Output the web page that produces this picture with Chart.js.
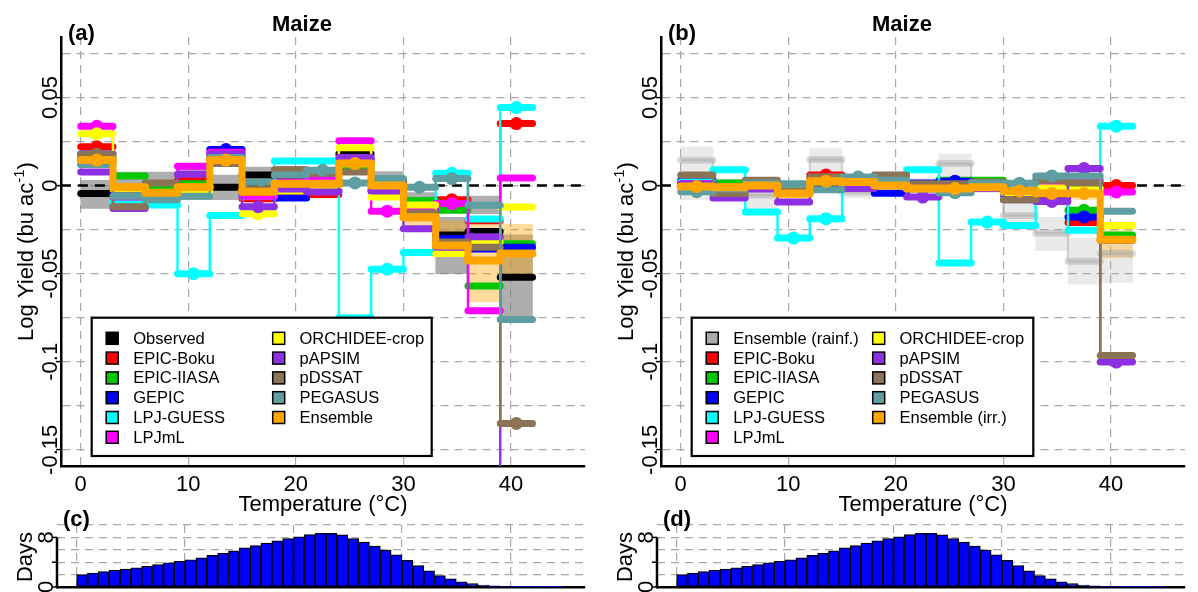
<!DOCTYPE html>
<html>
<head>
<meta charset="utf-8">
<script src="https://cdn.jsdelivr.net/npm/chart.js@4/dist/chart.umd.min.js"></script>
<style>
  html, body { margin: 0; padding: 0; background: #fff; }
  #wrap { position: relative; width: 1198px; height: 592px; overflow: hidden; background: #fff; }
  canvas { position: absolute; }
</style>
</head>
<body>
<div id="wrap">
  <canvas id="panelA" width="600" height="525" style="left:0;top:0"></canvas>
  <canvas id="panelB" width="598" height="525" style="left:600px;top:0"></canvas>
  <canvas id="panelC" width="600" height="92" style="left:0;top:500px"></canvas>
  <canvas id="panelD" width="598" height="92" style="left:600px;top:500px"></canvas>
</div>
<script>
const FONT = '"Liberation Sans", Arial, Helvetica, sans-serif';

// ---- temperature bins (lower edge, °C) ----
const binLow = [0, 3, 6, 9, 12, 15, 18, 21, 24, 27, 30, 33, 36, 39];
const binWidth = 3;

// ---- axis ticks ----
const xTickValues = [0, 10, 20, 30, 40];
const yGridValues = [-0.15, -0.125, -0.1, -0.075, -0.05, -0.025, 0, 0.025, 0.05, 0.075];
const yTickValues = [-0.15, -0.1, -0.05, 0, 0.05];
const yTickLabels = ['-0.15', '-0.1', '-0.05', '0', '0.05'];
const dayGridValues = [0, 2, 4, 6, 8, 10];
const dayTickValues = [0, 8];
const dayTickLabels = ['0', '8'];

// ---- panel (a): rainfed, per-bin log-yield response ----
const observedA   = [-0.0045, -0.002, -0.001, -0.002, -0.001, 0.006, 0.004, 0.003, 0.018, 0.002, -0.012, -0.028, -0.026, -0.052];
const observedLoA = [-0.013, -0.008, -0.008, -0.008, -0.008, -0.001, 0.000, -0.004, 0.014, -0.004, -0.020, -0.050, -0.016, -0.076];
const observedHiA = [0.003, 0.0077, 0.0077, 0.0106, 0.006, 0.0105, 0.011, 0.010, 0.022, 0.008, -0.004, -0.018, -0.006, -0.028];
const epicBokuA   = [0.022, -0.004, -0.006, 0.003, 0.017, -0.0075, -0.004, -0.005, 0.012, -0.003, -0.011, -0.008, -0.020, 0.0352];
const epicIiasaA  = [0.016, 0.0055, -0.002, 0.001, 0.016, -0.004, 0.000, 0.001, 0.009, -0.002, -0.0085, -0.014, -0.057, -0.033];
const gepicA      = [0.018, -0.003, -0.005, -0.002, 0.0205, -0.005, -0.007, -0.003, 0.015, -0.003, -0.015, -0.030, -0.036, -0.035];
const lpjGuessA   = [0.012, -0.009, -0.011, -0.050, -0.017, -0.006, 0.014, 0.014, -0.075, -0.0475, -0.038, 0.007, -0.019, 0.0443];
const lpjmlA      = [0.0337, -0.0065, -0.006, 0.011, 0.019, -0.006, 0.002, 0.003, 0.0255, -0.0145, -0.013, -0.0102, -0.071, 0.0043];
const orchideeA   = [0.0295, -0.002, -0.004, -0.003, 0.015, -0.016, -0.003, 0.000, 0.0215, -0.0065, -0.011, -0.0386, -0.032, -0.0122];
const papsimA     = [0.0077, -0.013, -0.006, 0.0064, 0.018, -0.012, -0.002, -0.0036, 0.016, -0.003, -0.0245, -0.035, -0.029, -0.25];
const pdssatA     = [0.0178, -0.012, 0.0015, -0.001, 0.0125, -0.002, 0.009, 0.007, 0.0077, 0.003, -0.0155, -0.032, -0.035, -0.135];
const pegasusA    = [0.012, -0.006, -0.008, -0.006, 0.016, 0.002, 0.006, 0.0087, 0.0015, 0.004, -0.001, 0.004, -0.0112, -0.076];
const ensembleA   = [0.0145, -0.001, -0.004, -0.001, 0.0145, -0.0035, 0.001, 0.001, 0.0125, 0.000, -0.018, -0.034, -0.0425, -0.0386];
const ensembleLoA = [0.012, -0.003, -0.006, -0.003, 0.012, -0.0055, -0.001, -0.001, 0.010, -0.002, -0.025, -0.038, -0.066, -0.050];
const ensembleHiA = [0.017, 0.001, -0.002, 0.001, 0.017, -0.0015, 0.003, 0.003, 0.015, 0.002, -0.012, -0.020, -0.022, -0.022];

// bins marked with a dot, panel (a)
const dotsObservedA = [];
const dotsEpicBokuA = [0, 11, 13];
const dotsEpicIiasaA = [];
const dotsGepicA = [4];
const dotsLpjGuessA = [3, 9, 11, 13];
const dotsLpjmlA = [0, 9, 11];
const dotsOrchideeA = [0, 5];
const dotsPapsimA = [5];
const dotsPdssatA = [0, 13];
const dotsPegasusA = [7, 8, 10, 11];
const dotsEnsembleA = [0, 4, 8];

// ---- panel (b): irrigated, per-bin log-yield response ----
const ensRainfB   = [0.0144, -0.001, -0.0055, -0.003, 0.0148, -0.0036, 0.001, 0.000, 0.0125, 0.000, -0.017, -0.027, -0.043, -0.0386];
const ensRainfLoB = [-0.008, -0.004, -0.014, -0.007, -0.002, -0.007, -0.003, -0.004, -0.001, -0.004, -0.021, -0.037, -0.056, -0.055];
const ensRainfHiB = [0.022, 0.004, -0.002, 0.002, 0.021, 0.000, 0.004, 0.004, 0.018, 0.004, -0.006, -0.018, -0.030, -0.030];
const epicBokuB   = [0.002, 0.000, 0.000, -0.004, 0.006, 0.003, 0.002, 0.000, 0.001, 0.002, -0.004, -0.002, -0.021, 0.000];
const epicIiasaB  = [0.001, 0.0015, 0.000, -0.003, 0.003, 0.002, 0.001, 0.001, 0.003, 0.003, -0.003, -0.003, -0.014, -0.028];
const gepicB      = [0.003, -0.001, -0.001, -0.004, 0.002, 0.001, -0.0044, 0.0015, 0.0025, 0.001, -0.005, -0.006, -0.0178, -0.031];
const lpjGuessB   = [0.002, 0.009, -0.015, -0.0298, -0.0188, 0.004, 0.004, 0.009, -0.044, -0.0207, -0.0226, 0.001, -0.0254, 0.0337];
const lpjmlB      = [0.001, -0.002, -0.001, -0.004, 0.003, 0.001, 0.001, -0.001, 0.000, 0.001, -0.003, 0.0015, 0.003, -0.0036];
const orchideeB   = [0.000, -0.001, -0.001, -0.005, 0.002, 0.001, 0.000, -0.001, -0.001, 0.000, -0.004, -0.0014, -0.0017, -0.0226];
const papsimB     = [0.001, -0.007, -0.002, -0.0093, 0.003, -0.0017, 0.000, -0.0065, -0.002, -0.0017, -0.008, -0.009, 0.0097, -0.1002];
const pdssatB     = [0.006, -0.0045, 0.003, -0.003, 0.005, 0.004, 0.006, 0.001, 0.001, 0.002, -0.008, 0.003, 0.0015, -0.0964];
const pegasusB    = [-0.0035, -0.002, 0.0015, 0.001, -0.0023, 0.0049, 0.003, -0.002, -0.004, 0.0014, 0.0014, 0.0055, 0.0055, -0.0146];
const ensIrrB     = [-0.0005, -0.001, 0.000, -0.0045, 0.0025, 0.002, 0.000, -0.0017, -0.0017, -0.0009, -0.003, -0.0045, -0.0045, -0.0307];
const ensIrrLoB   = [-0.0025, -0.003, -0.002, -0.0065, 0.0005, 0.000, -0.002, -0.0037, -0.0037, -0.0029, -0.005, -0.0065, -0.008, -0.041];
const ensIrrHiB   = [0.0015, 0.001, 0.002, -0.0025, 0.0045, 0.004, 0.002, 0.0003, 0.0003, 0.0011, -0.001, -0.0025, -0.002, -0.025];

// bins marked with a dot, panel (b)
const dotsEnsRainfB = [];
const dotsEpicBokuB = [4, 13];
const dotsEpicIiasaB = [12];
const dotsGepicB = [8, 12];
const dotsLpjGuessB = [3, 4, 9, 13];
const dotsLpjmlB = [11, 13];
const dotsOrchideeB = [];
const dotsPapsimB = [7, 11, 12, 13];
const dotsPdssatB = [];
const dotsPegasusB = [0, 5, 8, 10, 11];
const dotsEnsIrrB = [0, 4, 8, 10, 11, 12];

// ---- panels (c), (d): growing-season days per 1 °C temperature bin ----
const dayTemps = [0, 1, 2, 3, 4, 5, 6, 7, 8, 9, 10, 11, 12, 13, 14, 15, 16, 17, 18, 19, 20, 21, 22,
                  23, 24, 25, 26, 27, 28, 29, 30, 31, 32, 33, 34, 35, 36, 37, 38, 39, 40, 41, 42, 43, 44];
const daysPerDegree = [2.0, 2.25, 2.5, 2.7, 2.9, 3.1, 3.35, 3.6, 3.9, 4.15, 4.4, 4.7, 5.1, 5.45, 5.85, 6.3,
                       6.7, 7.1, 7.45, 7.8, 8.1, 8.45, 8.65, 8.65, 8.4, 7.8, 7.25, 6.6, 5.95, 5.2, 4.3, 3.45,
                       2.6, 1.85, 1.3, 0.85, 0.55, 0.32, 0.2, 0.1, 0.06, 0.03, 0.02, 0.01, 0.01];

// ---- colours ----
const COL = {
  black: '#000000', red: '#ff0000', green: '#00c800', blue: '#0000ff', cyan: '#00ffff',
  magenta: '#ff00ff', yellow: '#ffff00', purple: '#8f2fe3', brown: '#8b7355',
  teal: '#5f9ea0', orange: '#ffa500', grey: '#aaaaaa'
};

// ---- dataset helpers ----
function stepLine(values) {
  const pts = [];
  values.forEach((v, i) => {
    pts.push({ x: binLow[i], y: v });
    pts.push({ x: binLow[i] + binWidth, y: v });
  });
  return pts;
}
function binSegments(values, dots) {
  const pts = [];
  values.forEach((v, i) => {
    const x0 = binLow[i];
    pts.push({ x: x0, y: v, m: false });
    pts.push({ x: x0 + binWidth / 2, y: v, m: dots.includes(i) });
    pts.push({ x: x0 + binWidth, y: v, m: false });
    pts.push({ x: x0 + binWidth, y: null, m: false });
  });
  return pts;
}
function binBand(lo, hi, color) {
  return {
    type: 'bar',
    data: binLow.map((x0, i) => ({ x: x0 + binWidth / 2, y: [lo[i], hi[i]] })),
    backgroundColor: color, borderWidth: 0, grouped: false,
    barPercentage: 1, categoryPercentage: 1
  };
}
function zeroLine() {
  return {
    type: 'line', data: [{ x: -5, y: 0 }, { x: 50, y: 0 }],
    borderColor: '#000', borderWidth: 2.5, borderDash: [10, 7], pointRadius: 0, fill: false
  };
}
function seriesSets(s) {
  const stroke = s.stroke || s.color;
  return [
    { type: 'line', data: stepLine(s.values), borderColor: stroke, borderWidth: s.link || 2.4,
      pointRadius: 0, tension: 0, fill: false, borderJoinStyle: 'round' },
    { type: 'line', data: binSegments(s.values, s.dots), borderColor: stroke, borderWidth: s.width || 7,
      borderCapStyle: 'round', borderJoinStyle: 'round', spanGaps: false, tension: 0, fill: false,
      pointRadius: c => (c.raw && c.raw.m ? 6.5 : 0), pointHoverRadius: 0,
      pointBackgroundColor: s.color, pointBorderWidth: 0 }
  ];
}
// later entries are painted on top
function layered(list) {
  return list.map((ds, i) => Object.assign(ds, { order: list.length - i }));
}

// ---- text helpers ----
function rotText(ctx, text, x, y, font) {
  ctx.save();
  ctx.translate(x, y);
  ctx.rotate(-Math.PI / 2);
  ctx.font = font;
  ctx.fillStyle = '#000';
  ctx.textAlign = 'center';
  ctx.textBaseline = 'alphabetic';
  ctx.fillText(text, 0, 0);
  ctx.restore();
}
function yieldTitle(ctx, x, y) {
  const main = '22px ' + FONT, sup = '15px ' + FONT;
  const a = 'Log Yield (bu ac', b = '-1', c = ')';
  ctx.save();
  ctx.translate(x, y);
  ctx.rotate(-Math.PI / 2);
  ctx.fillStyle = '#000';
  ctx.textAlign = 'left';
  ctx.textBaseline = 'alphabetic';
  ctx.font = main; const w1 = ctx.measureText(a).width; const w3 = ctx.measureText(c).width;
  ctx.font = sup; const w2 = ctx.measureText(b).width;
  let cx = -(w1 + w2 + w3) / 2;
  ctx.font = main; ctx.fillText(a, cx, 0); cx += w1;
  ctx.font = sup; ctx.fillText(b, cx, -9); cx += w2;
  ctx.font = main; ctx.fillText(c, cx, 0);
  ctx.restore();
}
function plainText(ctx, text, x, y, font, align) {
  ctx.save();
  ctx.font = font;
  ctx.fillStyle = '#000';
  ctx.textAlign = align || 'left';
  ctx.textBaseline = 'alphabetic';
  ctx.fillText(text, x, y);
  ctx.restore();
}
function drawLegend(ctx, col1, col2, box) {
  ctx.save();
  ctx.fillStyle = '#fff';
  ctx.fillRect(box.x, box.y, box.w, box.h);
  ctx.lineWidth = 2.2;
  ctx.strokeStyle = '#000';
  ctx.strokeRect(box.x, box.y, box.w, box.h);
  ctx.font = '16.5px ' + FONT;
  ctx.textBaseline = 'middle';
  ctx.textAlign = 'left';
  const rowY = k => box.y + 20.6 + k * 19.8;
  const drawCol = (items, sx, tx) => items.forEach((it, k) => {
    const y = rowY(k);
    ctx.fillStyle = it.color;
    ctx.fillRect(sx, y - 6, 12, 12);
    ctx.lineWidth = 1.5;
    ctx.strokeStyle = '#000';
    ctx.strokeRect(sx, y - 6, 12, 12);
    ctx.fillStyle = '#000';
    ctx.fillText(it.label, tx, y + 1);
  });
  drawCol(col1, box.x + 14.5, box.x + 41.5);
  drawCol(col2, box.x + 181, box.x + 207.8);
  ctx.restore();
}

// ---- top panels ----
const xMin = -1.831, xMax = 46.88;
const yMin = -0.15918, yMax = 0.08436;
const isLabeledY = v => yTickValues.some(t => Math.abs(t - v) < 1e-9);

function yieldChart(canvasId, tag, datasets, legendCol1, legendCol2, rightPad, legendW) {
  const decor = {
    id: 'decor' + tag,
    afterDatasetsDraw(chart) {
      drawLegend(chart.ctx, legendCol1, legendCol2, { x: 91.7, y: 317.7, w: legendW, h: 138.3 });
    },
    afterDraw(chart) {
      const ctx = chart.ctx;
      const ys = chart.scales.y;
      yTickValues.forEach((v, i) => rotText(ctx, yTickLabels[i], 57, ys.getPixelForValue(v), '22px ' + FONT));
      yieldTitle(ctx, 33, (chart.chartArea.top + chart.chartArea.bottom) / 2);
      plainText(ctx, 'Maize', 302, 30.5, 'bold 22px ' + FONT, 'center');
      plainText(ctx, '(' + tag + ')', 68, 40, 'bold 22px ' + FONT, 'left');
      plainText(ctx, 'Temperature (°C)', (chart.chartArea.left + chart.chartArea.right) / 2, 511, '22px ' + FONT, 'center');
    }
  };
  return new Chart(document.getElementById(canvasId), {
    type: 'line',
    data: { datasets: layered(datasets) },
    options: {
      responsive: false, animation: false, events: [],
      layout: { padding: { top: 37, right: rightPad, left: 0, bottom: 0 } },
      plugins: { legend: { display: false }, tooltip: { enabled: false }, title: { display: false } },
      scales: {
        x: {
          type: 'linear', min: xMin, max: xMax, offset: false,
          afterBuildTicks: sc => { sc.ticks = xTickValues.map(v => ({ value: v })); },
          afterFit: sc => { sc.height = 59; },
          ticks: { color: '#000', font: { family: FONT, size: 22 }, padding: 6, maxRotation: 0, autoSkip: false,
                   callback: v => String(v) },
          grid: { color: '#a8a8a8', lineWidth: 1.2, drawTicks: false, offset: false },
          border: { display: true, color: '#000', width: 2.5, dash: [8, 6] }
        },
        y: {
          type: 'linear', min: yMin, max: yMax,
          afterBuildTicks: sc => { sc.ticks = yGridValues.map(v => ({ value: v })); },
          afterFit: sc => { sc.width = 61; },
          ticks: { display: false },
          grid: { color: '#a8a8a8', lineWidth: 1.2, drawTicks: true, tickLength: 5, tickWidth: 1.5,
                  tickColor: c => (c.tick && isLabeledY(c.tick.value) ? '#000' : 'rgba(0,0,0,0)') },
          border: { display: true, color: '#000', width: 2.5, dash: [8, 6] }
        }
      }
    },
    plugins: [decor]
  });
}

// panel (a)
const seriesA = [
  { name: 'Observed', color: COL.black, values: observedA, dots: dotsObservedA },
  { name: 'EPIC-Boku', color: COL.red, values: epicBokuA, dots: dotsEpicBokuA },
  { name: 'EPIC-IIASA', color: COL.green, values: epicIiasaA, dots: dotsEpicIiasaA },
  { name: 'GEPIC', color: COL.blue, values: gepicA, dots: dotsGepicA },
  { name: 'LPJ-GUESS', color: COL.cyan, values: lpjGuessA, dots: dotsLpjGuessA },
  { name: 'LPJmL', color: COL.magenta, values: lpjmlA, dots: dotsLpjmlA },
  { name: 'ORCHIDEE-crop', color: COL.yellow, values: orchideeA, dots: dotsOrchideeA },
  { name: 'pAPSIM', color: COL.purple, values: papsimA, dots: dotsPapsimA },
  { name: 'pDSSAT', color: COL.brown, values: pdssatA, dots: dotsPdssatA },
  { name: 'PEGASUS', color: COL.teal, values: pegasusA, dots: dotsPegasusA },
  { name: 'Ensemble', color: COL.orange, values: ensembleA, dots: dotsEnsembleA, width: 8, link: 7 }
];
const setsA = [
  binBand(observedLoA, observedHiA, 'rgba(120,120,120,0.6)'),
  binBand(ensembleLoA, ensembleHiA, 'rgba(255,165,0,0.39)'),
  zeroLine()
];
seriesA.forEach(s => setsA.push(...seriesSets(s)));
yieldChart('panelA', 'a', setsA,
  seriesA.slice(0, 6).map(s => ({ label: s.name, color: s.color })),
  seriesA.slice(6).map(s => ({ label: s.name, color: s.color })), 15, 340);

// panel (b)
const seriesB = [
  { name: 'Ensemble (rainf.)', color: COL.grey, stroke: 'rgba(165,165,165,0.42)', values: ensRainfB, dots: dotsEnsRainfB },
  { name: 'EPIC-Boku', color: COL.red, values: epicBokuB, dots: dotsEpicBokuB },
  { name: 'EPIC-IIASA', color: COL.green, values: epicIiasaB, dots: dotsEpicIiasaB },
  { name: 'GEPIC', color: COL.blue, values: gepicB, dots: dotsGepicB },
  { name: 'LPJ-GUESS', color: COL.cyan, values: lpjGuessB, dots: dotsLpjGuessB },
  { name: 'LPJmL', color: COL.magenta, values: lpjmlB, dots: dotsLpjmlB },
  { name: 'ORCHIDEE-crop', color: COL.yellow, values: orchideeB, dots: dotsOrchideeB },
  { name: 'pAPSIM', color: COL.purple, values: papsimB, dots: dotsPapsimB },
  { name: 'pDSSAT', color: COL.brown, values: pdssatB, dots: dotsPdssatB },
  { name: 'PEGASUS', color: COL.teal, values: pegasusB, dots: dotsPegasusB },
  { name: 'Ensemble (irr.)', color: COL.orange, values: ensIrrB, dots: dotsEnsIrrB, width: 8, link: 7 }
];
const setsB = [
  binBand(ensRainfLoB, ensRainfHiB, 'rgba(170,170,170,0.25)'),
  binBand(ensIrrLoB, ensIrrHiB, 'rgba(255,165,0,0.3)'),
  zeroLine()
];
seriesB.forEach(s => setsB.push(...seriesSets(s)));
yieldChart('panelB', 'b', setsB,
  seriesB.slice(0, 6).map(s => ({ label: s.name, color: s.color })),
  seriesB.slice(6).map(s => ({ label: s.name, color: s.color })), 13, 341.6);

// ---- bottom panels: days histogram ----
const hMin = -1.807, hMax = 46.87;
function daysChart(canvasId, tag, rightPad) {
  const decor = {
    id: 'days' + tag,
    afterDraw(chart) {
      const ctx = chart.ctx;
      const ys = chart.scales.y;
      const left = chart.chartArea.left;
      ctx.save();
      ctx.strokeStyle = '#000';
      ctx.lineWidth = 2.5;
      ctx.beginPath();
      ctx.moveTo(left, ys.getPixelForValue(0) + 1.2);
      ctx.lineTo(left, ys.getPixelForValue(8));
      ctx.stroke();
      ctx.lineWidth = 1.5;
      [0, 4, 8].forEach(v => {
        const py = ys.getPixelForValue(v);
        ctx.beginPath(); ctx.moveTo(left - 5, py); ctx.lineTo(left, py); ctx.stroke();
      });
      ctx.restore();
      dayTickValues.forEach((v, i) => rotText(ctx, dayTickLabels[i], 53, ys.getPixelForValue(v), '22px ' + FONT));
      rotText(ctx, 'Days', 32, 57, '22px ' + FONT);
      plainText(ctx, '(' + tag + ')', 63, 26, 'bold 22px ' + FONT, 'left');
    }
  };
  return new Chart(document.getElementById(canvasId), {
    type: 'bar',
    data: {
      datasets: [{
        data: dayTemps.map((t, i) => ({ x: t + 0.5, y: daysPerDegree[i] })),
        backgroundColor: '#0000ff', borderColor: '#000', borderWidth: 1.25, borderSkipped: false,
        barPercentage: 1, categoryPercentage: 1
      }]
    },
    options: {
      responsive: false, animation: false, events: [],
      layout: { padding: { top: 25, right: rightPad, left: 0, bottom: 0 } },
      plugins: { legend: { display: false }, tooltip: { enabled: false } },
      scales: {
        x: {
          type: 'linear', min: hMin, max: hMax, offset: false,
          afterBuildTicks: sc => { sc.ticks = xTickValues.map(v => ({ value: v })); },
          afterFit: sc => { sc.height = 5; },
          ticks: { display: false },
          grid: { color: '#a8a8a8', lineWidth: 1.2, drawTicks: false, offset: false },
          border: { display: true, color: '#000', width: 2.5, dash: [8, 6] }
        },
        y: {
          type: 'linear', min: 0, max: 10,
          afterBuildTicks: sc => { sc.ticks = dayGridValues.map(v => ({ value: v })); },
          afterFit: sc => { sc.width = 57; },
          ticks: { display: false },
          grid: { color: '#a8a8a8', lineWidth: 1.2, drawTicks: false },
          border: { display: false, dash: [8, 6] }
        }
      }
    },
    plugins: [decor]
  });
}
daysChart('panelC', 'c', 15);
daysChart('panelD', 'd', 13);
</script>
</body>
</html>
